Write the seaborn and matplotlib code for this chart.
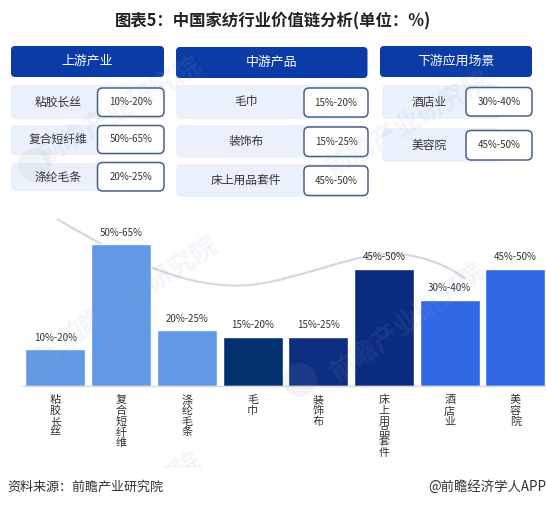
import matplotlib
matplotlib.use("Agg")
import matplotlib.pyplot as plt
from matplotlib.patches import FancyBboxPatch, Circle, PathPatch, Rectangle
from matplotlib.path import Path
import seaborn as sns
import pandas as pd

sns.set_style("white")
plt.rcParams['font.family'] = ['Noto Sans CJK SC', 'DejaVu Sans']

title = '图表5：中国家纺行业价值链分析(单位：%)'
source_left = '资料来源：前瞻产业研究院'
source_right = '@前瞻经济学人APP'
watermark = '前瞻产业研究院'
watermark_cut = '究院'

headers = ['上游产业', '中游产品', '下游应用场景']
upstream = ['粘胶长丝', '复合短纤维', '涤纶毛条']
upstream_range = ['10%-20%', '50%-65%', '20%-25%']
midstream = ['毛巾', '装饰布', '床上用品套件']
midstream_range = ['15%-20%', '15%-25%', '45%-50%']
downstream = ['酒店业', '美容院']
downstream_range = ['30%-40%', '45%-50%']

categories = upstream + midstream + downstream
ranges = upstream_range + midstream_range + downstream_range
# bars sit at the middle of each range (15-20 drawn level with 15-25)
values = [15, 57.5, 22.5, 20, 20, 47.5, 35, 47.5]
bar_colors = ['#6299E6', '#6299E6', '#6299E6', '#03306F',
              '#0C2D80', '#0B2B80', '#3068E6', '#3068E6']

W, H = 546, 508
fig = plt.figure(figsize=(W / 100, H / 100), dpi=100, facecolor='white')

#%% layer behind the bars, for the swoosh
back = fig.add_axes([0, 0, 1, 1], facecolor='none', zorder=0)
back.set_xlim(0, W)
back.set_ylim(H, 0)
back.axis('off')
curve = Path([(57, 219), (130, 262), (190, 290), (250, 285),
              (300, 280), (360, 250), (400, 254), (430, 257), (455, 270), (465, 279)],
             [Path.MOVETO, Path.CURVE4, Path.CURVE4, Path.CURVE4,
              Path.CURVE4, Path.CURVE4, Path.CURVE4, Path.CURVE4, Path.CURVE4, Path.CURVE4])
back.add_patch(PathPatch(curve, fc='none', ec='#D3D8E2', lw=1.6))

#%% bar chart
left, right, base, top = 22.6, 546, 386, 237.8
ax = fig.add_axes([left / W, 1 - base / H, (right - left) / W, (base - top) / H], zorder=1)
df = pd.DataFrame({'cat': categories, 'val': values})
sns.barplot(data=df, x='cat', y='val', hue='cat', palette=bar_colors, dodge=False,
            legend=False, width=0.913, saturation=1, ax=ax)
ax.set_xlim(-0.5, 7.466)
ax.set_ylim(0, 60)
ax.set_xlabel('')
ax.set_ylabel('')
ax.set_yticks([])
ax.set_facecolor('none')
for s in ['top', 'left', 'right']:
    ax.spines[s].set_visible(False)
ax.spines['bottom'].set_color('#D9D9D9')
ax.spines['bottom'].set_linewidth(1)
ax.set_xticks(range(len(categories)))
ax.set_xticklabels(['\n'.join(c) for c in categories], fontsize=8,
                   color='#333333', linespacing=1.06)
ax.tick_params(axis='x', length=0, pad=6.5)
for i, (v, r) in enumerate(zip(values, ranges)):
    ax.annotate(r, (i, v), xytext=(0, 4.5), textcoords='offset points', ha='center',
                va='bottom', fontsize=7, color='#333333')

#%% overlay in pixel coords: cards, watermark, title
ov = fig.add_axes([0, 0, 1, 1], facecolor='none', zorder=2)
ov.set_xlim(0, W)
ov.set_ylim(H, 0)
ov.axis('off')


def card(x0, y0, x1, y1, fc, ec='none', lw=0, r=4):
    ov.add_patch(FancyBboxPatch((x0 + r, y0 + r), x1 - x0 - 2 * r, y1 - y0 - 2 * r,
                                boxstyle='round,pad=%d,rounding_size=%d' % (r, r),
                                fc=fc, ec=ec, lw=lw))


header_boxes = [(11, 46, 164, 77), (176, 47, 367.5, 78), (380, 46, 532, 77)]
for (x0, y0, x1, y1), h in zip(header_boxes, headers):
    card(x0, y0, x1, y1, '#0B3BA6')
    ov.text((x0 + x1) / 2, (y0 + y1) / 2, h, color='white', fontsize=9.3,
            ha='center', va='center')

columns = [
    (upstream, upstream_range, 11, 164, 58, 97.5, 164,
     [(85, 119), (125, 155), (163, 191)], [(88, 116.5), (125.5, 153.5), (162.5, 191)]),
    (midstream, midstream_range, 176, 367, 246, 304, 368,
     [(85, 119), (125, 158), (164, 197)], [(88, 117), (127, 156.5), (166, 195.5)]),
    (downstream, downstream_range, 382, 500, 429, 466, 532,
     [(85, 119), (128, 162)], [(87.5, 116), (130.5, 160)]),
]
for names, rngs, bx0, bx1, tx, px0, px1, rows, boxes in columns:
    for n, rg, (ry0, ry1), (by0, by1) in zip(names, rngs, rows, boxes):
        card(bx0, ry0, bx1, ry1, '#EAF1FB', r=5)
        ov.text(tx, (ry0 + ry1) / 2, n, fontsize=8.5, color='#333333', ha='center', va='center')
        card(px0, by0, px1, by1, 'white', ec='#4A5F85', lw=1.1, r=5)
        ov.text((px0 + px1) / 2, (by0 + by1) / 2, rg, fontsize=7, color='#333333',
                ha='center', va='center')

# watermarks
marks = [(120, 110, 31), (408, 124, 30), (138, 293, 33), (408, 322, 36)]
for x, y, rot in marks:
    ov.text(x, y, watermark, fontsize=19, color='#8FA3C4', alpha=0.11, rotation=rot,
            ha='center', va='center', fontweight='bold', rotation_mode='anchor')
for x, y in [(35, 165), (45, 362), (300, 380)]:
    ov.add_patch(Circle((x, y), 17, fc='#8FA3C4', ec='none', alpha=0.11))
ov.text(178, 473, watermark_cut, fontsize=19, color='#8FA3C4', alpha=0.11, rotation=33,
        ha='center', va='center', fontweight='bold', rotation_mode='anchor')

# footer strip hides the bottom watermark below y=468
ov.add_patch(Rectangle((0, 468), W, H - 468, fc='white', ec='none', zorder=3))
ov.text(273, 21, title, fontsize=11.8, fontweight='bold', color='#222222', ha='center', va='center')
ov.text(7, 487, source_left, fontsize=9.4, color='#333333', ha='left', va='center', zorder=4)
ov.text(546, 487, source_right, fontsize=9.6, color='#333333', ha='right', va='center', zorder=4)

fig.savefig('out.png', dpi=100, facecolor='white')
